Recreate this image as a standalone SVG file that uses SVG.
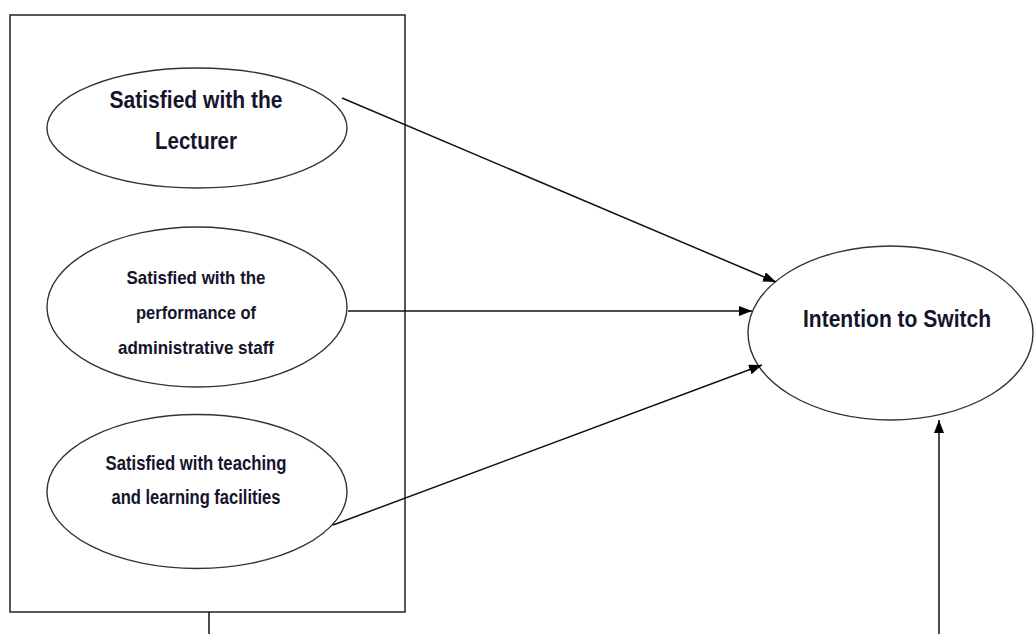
<svg xmlns="http://www.w3.org/2000/svg" width="1035" height="634" viewBox="0 0 1035 634">
<defs>
<marker id="arr" markerUnits="userSpaceOnUse" markerWidth="14" markerHeight="12" refX="13" refY="5" orient="auto">
<path d="M0,0 L13,5 L0,10 Z" fill="#000"/>
</marker>
<style>
.box{fill:none;stroke:#222;stroke-width:1.5}
.ell{fill:#fff;stroke:#333;stroke-width:1.4}
.lbl{font-family:"Liberation Sans",Arial,sans-serif;font-weight:bold;fill:#14142b;text-anchor:middle}
.con{stroke:#111;stroke-width:1.5;fill:none}
</style>
</defs>
<rect width="1035" height="634" fill="#fff"/>
<g id="group-box">
<rect class="box" x="10" y="15" width="395" height="597"/>
</g>
<g id="node-lecturer">
<ellipse class="ell" cx="197" cy="128" rx="150" ry="60"/>
<text class="lbl" x="196" y="108" font-size="24" textLength="173" lengthAdjust="spacingAndGlyphs">Satisfied with the</text>
<text class="lbl" x="196" y="149" font-size="24" textLength="82" lengthAdjust="spacingAndGlyphs">Lecturer</text>
</g>
<g id="node-admin">
<ellipse class="ell" cx="197" cy="307" rx="150" ry="80"/>
<text class="lbl" x="196" y="284" font-size="19" textLength="139" lengthAdjust="spacingAndGlyphs">Satisfied with the</text>
<text class="lbl" x="196" y="319" font-size="19" textLength="120" lengthAdjust="spacingAndGlyphs">performance of</text>
<text class="lbl" x="196" y="354" font-size="19" textLength="156" lengthAdjust="spacingAndGlyphs">administrative staff</text>
</g>
<g id="node-facilities">
<ellipse class="ell" cx="197" cy="491.5" rx="150" ry="77"/>
<text class="lbl" x="196" y="470" font-size="20" textLength="181" lengthAdjust="spacingAndGlyphs">Satisfied with teaching</text>
<text class="lbl" x="196" y="504" font-size="20" textLength="169" lengthAdjust="spacingAndGlyphs">and learning facilities</text>
</g>
<g id="node-intention">
<ellipse class="ell" cx="890.5" cy="333" rx="142.5" ry="87"/>
<text class="lbl" x="897" y="327" font-size="24" textLength="188" lengthAdjust="spacingAndGlyphs">Intention to Switch</text>
</g>
<g id="connectors">
<line class="con" x1="342" y1="98" x2="776" y2="282" marker-end="url(#arr)"/>
<line class="con" x1="348" y1="311" x2="752" y2="311" marker-end="url(#arr)"/>
<line class="con" x1="333" y1="525" x2="762" y2="365" marker-end="url(#arr)"/>
<line class="con" x1="209" y1="612" x2="209" y2="634"/>
<line class="con" x1="939" y1="634" x2="939" y2="420" marker-end="url(#arr)"/>
</g>
</svg>
